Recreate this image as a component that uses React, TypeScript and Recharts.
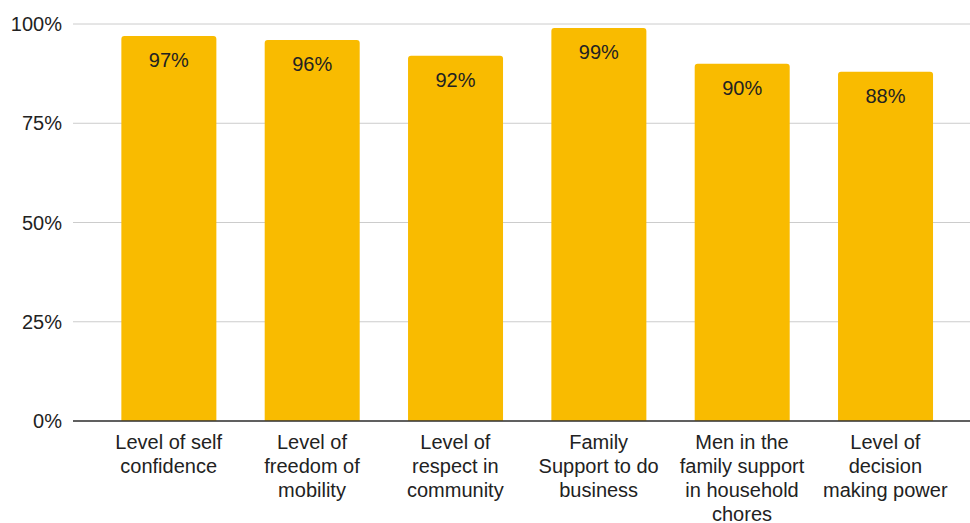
import { BarChart, Bar, XAxis, YAxis, CartesianGrid, LabelList } from "recharts";

const categories = [
  "Level of self confidence",
  "Level of freedom of mobility",
  "Level of respect in community",
  "Family Support to do business",
  "Men in the family support in household chores",
  "Level of decision making power",
];

// how each category label wraps under the axis
const tickLines = [
  ["Level of self", "confidence"],
  ["Level of", "freedom of", "mobility"],
  ["Level of", "respect in", "community"],
  ["Family", "Support to do", "business"],
  ["Men in the", "family support", "in household", "chores"],
  ["Level of", "decision", "making power"],
];

const values = [97, 96, 92, 99, 90, 88];

const yTicks = [0, 25, 50, 75, 100];

const data = categories.map((name, i) => ({ name, value: values[i], lines: tickLines[i] }));

const FONT = "Arial, 'Liberation Sans', sans-serif";

const CategoryTick = ({ x, y, index }: any) => {
  const lines = tickLines[index] || [];
  return (
    <text x={x} y={y} textAnchor="middle" fill="#222" fontSize={20} fontFamily={FONT}>
      {lines.map((line, i) => (
        <tspan key={i} x={x} dy={i === 0 ? 20 : 24}>
          {line}
        </tspan>
      ))}
    </text>
  );
};

const ValueLabel = ({ x, y, width, value }: any) => (
  <text
    x={x + width / 2}
    y={y + 31}
    textAnchor="middle"
    fill="#222"
    fontSize={20}
    fontFamily={FONT}
  >
    {value}%
  </text>
);

export default function App() {
  return (
    <div style={{ position: "absolute", left: 0, top: 0, background: "#fff" }}>
      <BarChart
        width={970}
        height={523}
        data={data}
        margin={{ top: 24, right: 0, bottom: 0, left: 0 }}
        barCategoryGap="17%"
      >
        <CartesianGrid vertical={false} stroke="#cccccc" />
        <XAxis
          dataKey="name"
          height={102}
          interval={0}
          tickLine={false}
          axisLine={{ stroke: "#333", strokeWidth: 1.5 }}
          padding={{ left: 24, right: 13 }}
          tick={<CategoryTick />}
        />
        <YAxis
          width={73}
          domain={[0, 100]}
          ticks={yTicks}
          tickFormatter={(v) => `${v}%`}
          axisLine={false}
          tickLine={false}
          tickSize={0}
          tickMargin={11}
          tick={{ fill: "#222", fontSize: 20, fontFamily: FONT }}
        />
        <Bar dataKey="value" fill="#F9BB00" radius={[3, 3, 0, 0]} isAnimationActive={false}>
          <LabelList dataKey="value" content={<ValueLabel />} />
        </Bar>
      </BarChart>
    </div>
  );
}
